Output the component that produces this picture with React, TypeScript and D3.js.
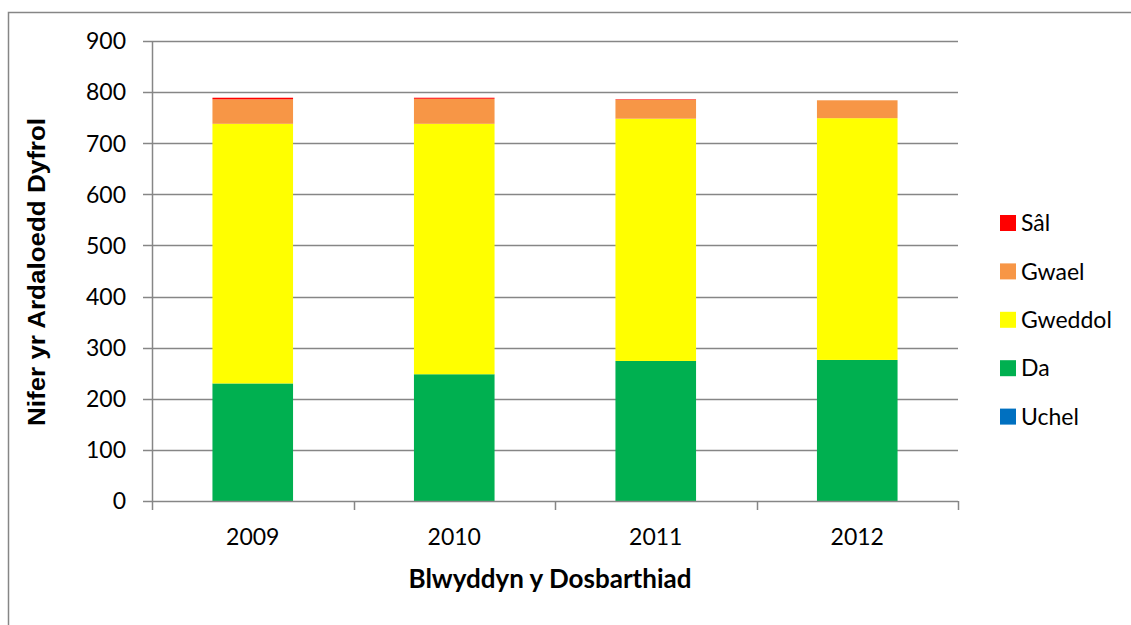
import React, { useRef, useEffect } from 'react';
import * as d3 from 'd3';

const years = ['2009', '2010', '2011', '2012'];
const seriesNames = ['Uchel', 'Da', 'Gweddol', 'Gwael', 'Sâl'];
const uchel = [0, 0, 0, 0];
const da = [230, 248, 274, 276];
const gweddol = [508, 490, 474, 473];
const gwael = [48, 49, 37, 35];
const sal = [3, 2, 1, 0];
const yTicks = [0, 100, 200, 300, 400, 500, 600, 700, 800, 900];

const colors: Record<string, string> = {
  Uchel: '#0070c0',
  Da: '#00b050',
  Gweddol: '#ffff00',
  Gwael: '#f79646',
  'Sâl': '#ff0000',
};

const App = () => {
  const svgRef = useRef<SVGSVGElement>(null);

  useEffect(() => {
    const width = 1131;
    const height = 625;
    const left = 152, right = 958, top = 41, bottom = 501;
    const font = 'Lato, "Open Sans", sans-serif';
    const grey = '#868686';

    const rows = years.map((y, i) => ({
      year: y,
      Uchel: uchel[i],
      Da: da[i],
      Gweddol: gweddol[i],
      Gwael: gwael[i],
      'Sâl': sal[i],
    }));

    const x = d3.scaleBand().domain(years).range([left, right]).paddingInner(0.6).paddingOuter(0.3);
    const band = d3.scaleBand().domain(years).range([left, right]);
    const y = d3.scaleLinear().domain([0, 900]).range([bottom, top]);
    const stack = d3.stack<any>().keys(seriesNames);
    const layers = stack(rows);

    const svg = d3.select(svgRef.current).attr('width', width).attr('height', height);
    svg.selectAll('*').remove();

    svg.append('rect')
      .attr('x', 8.5).attr('y', 12.5)
      .attr('width', width).attr('height', height)
      .attr('fill', 'white').attr('stroke', grey).attr('stroke-width', 1.5);

    // gridlines
    svg.append('g')
      .selectAll('line')
      .data(yTicks.slice(1))
      .join('line')
      .attr('x1', left).attr('x2', right)
      .attr('y1', d => Math.round(y(d)) + 0.5).attr('y2', d => Math.round(y(d)) + 0.5)
      .attr('stroke', grey).attr('stroke-width', 1.5);

    // bars
    svg.append('g')
      .selectAll('g')
      .data(layers)
      .join('g')
      .attr('fill', d => colors[d.key])
      .selectAll('rect')
      .data(d => d)
      .join('rect')
      .attr('x', d => x(d.data.year)!)
      .attr('width', x.bandwidth())
      .attr('y', d => y(d[1]))
      .attr('height', d => y(d[0]) - y(d[1]));

    // y axis
    const yAxis = svg.append('g');
    yAxis.append('line')
      .attr('x1', left + 0.5).attr('x2', left + 0.5)
      .attr('y1', top).attr('y2', bottom)
      .attr('stroke', grey).attr('stroke-width', 1.5);
    yAxis.selectAll('line.tick')
      .data(yTicks)
      .join('line')
      .attr('class', 'tick')
      .attr('x1', left - 9).attr('x2', left)
      .attr('y1', d => Math.round(y(d)) + 0.5).attr('y2', d => Math.round(y(d)) + 0.5)
      .attr('stroke', grey).attr('stroke-width', 1.5);
    yAxis.selectAll('text')
      .data(yTicks)
      .join('text')
      .attr('x', 126).attr('y', d => y(d))
      .attr('dy', '0.36em')
      .attr('text-anchor', 'end')
      .attr('font-family', font).attr('font-size', 23)
      .attr('fill', '#000')
      .text(d => d);

    // x axis
    const xAxis = svg.append('g');
    xAxis.append('line')
      .attr('x1', left).attr('x2', right)
      .attr('y1', bottom + 0.5).attr('y2', bottom + 0.5)
      .attr('stroke', grey).attr('stroke-width', 1.5);
    const bounds = [...years.map(d => band(d)!), right];
    xAxis.selectAll('line.tick')
      .data(bounds)
      .join('line')
      .attr('class', 'tick')
      .attr('x1', d => Math.round(d) + 0.5).attr('x2', d => Math.round(d) + 0.5)
      .attr('y1', bottom).attr('y2', bottom + 9)
      .attr('stroke', grey).attr('stroke-width', 1.5);
    xAxis.selectAll('text')
      .data(years)
      .join('text')
      .attr('x', d => band(d)! + band.bandwidth() / 2)
      .attr('y', 545)
      .attr('text-anchor', 'middle')
      .attr('font-family', font).attr('font-size', 23)
      .attr('fill', '#000')
      .text(d => d);

    // axis titles
    svg.append('text')
      .attr('x', 550).attr('y', 588)
      .attr('text-anchor', 'middle')
      .attr('font-family', font).attr('font-size', 26).attr('font-weight', 'bold')
      .text('Blwyddyn y Dosbarthiad');
    svg.append('text')
      .attr('transform', 'translate(45,272) rotate(-90)')
      .attr('text-anchor', 'middle')
      .attr('font-family', '"Liberation Sans", Arial, sans-serif')
      .attr('font-size', 24).attr('font-weight', 'bold')
      .attr('textLength', 308).attr('lengthAdjust', 'spacingAndGlyphs')
      .text('Nifer yr Ardaloedd Dyfrol');

    // legend
    const legendOrder = [...seriesNames].reverse();
    const legend = svg.append('g')
      .selectAll('g')
      .data(legendOrder)
      .join('g')
      .attr('transform', (d, i) => `translate(1000,${223 + i * 48.4})`);
    legend.append('rect')
      .attr('x', 0).attr('y', -8)
      .attr('width', 16).attr('height', 16)
      .attr('fill', d => colors[d]);
    legend.append('text')
      .attr('x', 21).attr('y', 0)
      .attr('dy', '0.36em')
      .attr('font-family', font).attr('font-size', 23)
      .text(d => d);
  }, []);

  return (
    <div style={{ position: 'fixed', left: 0, top: 0, width: 1131, height: 625, background: 'white' }}>
      <svg ref={svgRef} style={{ display: 'block' }}></svg>
    </div>
  );
};

export default App;
